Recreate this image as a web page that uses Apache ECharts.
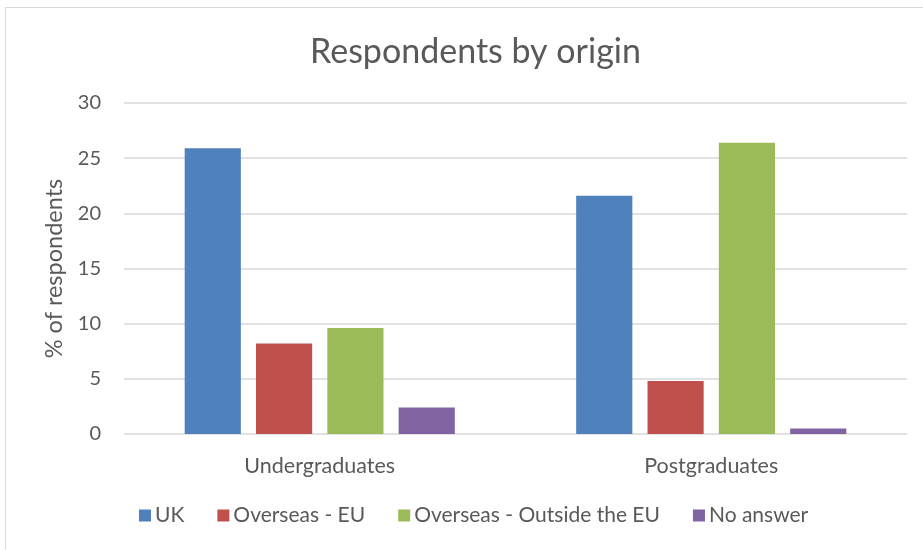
<!DOCTYPE html>
<html>
<head>
<meta charset="utf-8">
<script src="https://cdn.jsdelivr.net/npm/echarts@6/dist/echarts.min.js"></script>
<style>
  html, body { margin: 0; padding: 0; background: #fff; overflow: hidden; }
  .frame {
    position: absolute; left: 5px; top: 7px; width: 1000px; height: 1000px;
    border: 1px solid #d9d9d9; box-sizing: border-box;
  }
  #chart { position: absolute; left: 0; top: 0; width: 923px; height: 550px; }
</style>
</head>
<body>
<div class="frame"></div>
<div id="chart"></div>
<script>
// groups on the x axis
var categories = ['Undergraduates', 'Postgraduates']
var seriesNames = ['UK', 'Overseas - EU', 'Overseas - Outside the EU', 'No answer']
// % of respondents
var ukValues = [25.9, 21.6]
var euValues = [8.2, 4.8]
var outsideEuValues = [9.6, 26.4]
var noAnswerValues = [2.4, 0.5]
var colors = ['#4F81BD', '#C0504D', '#9BBB59', '#8064A2']

var allValues = [ukValues, euValues, outsideEuValues, noAnswerValues]
var font = 'Lato, "Open Sans", sans-serif'

var myChart = echarts.init(document.getElementById('chart'))
var option = {
  color: colors,
  animation: false,
  title: {
    text: 'Respondents by origin',
    left: 305,
    top: 30,
    textStyle: { fontFamily: font, fontSize: 34, fontWeight: 'normal', color: '#595959' }
  },
  legend: {
    bottom: 19,
    left: 134,
    itemWidth: 12,
    itemHeight: 12,
    itemGap: 33,
    icon: 'rect',
    textStyle: { fontFamily: font, fontSize: 21, color: '#595959', padding: [0, 0, 0, -1] },
    data: seriesNames
  },
  grid: {
    left: 124,
    right: 16,
    top: 103,
    bottom: 116,
    containLabel: false
  },
  xAxis: {
    type: 'category',
    data: categories,
    axisLine: { show: false },
    axisTick: { show: false },
    axisLabel: { fontFamily: font, fontSize: 21.5, color: '#595959', margin: 21 }
  },
  yAxis: {
    type: 'value',
    min: 0,
    max: 30,
    interval: 5,
    name: '% of respondents',
    nameLocation: 'middle',
    nameGap: 58,
    nameTextStyle: { fontFamily: font, fontSize: 23.5, color: '#595959' },
    axisLine: { show: false },
    axisTick: { show: false },
    axisLabel: { fontFamily: font, fontSize: 20, color: '#595959', margin: 23 },
    splitLine: { lineStyle: { color: '#d9d9d9', width: 1.5 } }
  },
  series: seriesNames.map(function (name, i) {
    return {
      name: name,
      type: 'bar',
      data: allValues[i],
      barGap: '27%',
      barCategoryGap: '31%'
    }
  })
}
myChart.setOption(option)
</script>
</body>
</html>
